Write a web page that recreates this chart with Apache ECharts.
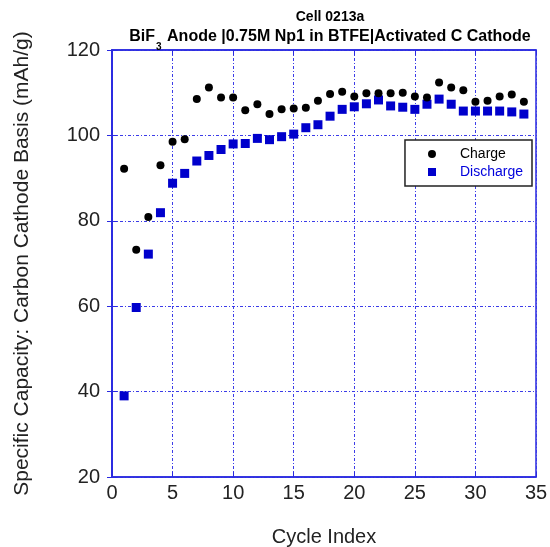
<!DOCTYPE html>
<html><head><meta charset="utf-8">
<script src="https://cdn.jsdelivr.net/npm/echarts@6/dist/echarts.min.js"></script>
<style>html,body{margin:0;padding:0;background:#fff}#c{width:550px;height:547px}</style>
</head><body><div id="c"></div>
<script>
const cycles = [1,2,3,4,5,6,7,8,9,10,11,12,13,14,15,16,17,18,19,20,21,22,23,24,25,26,27,28,29,30,31,32,33,34];
const charge = [92.2,73.2,80.9,93.0,98.5,99.1,108.5,111.2,108.9,108.9,105.9,107.3,105.0,106.1,106.3,106.5,108.1,109.7,110.2,109.1,109.9,109.9,109.9,110.0,109.1,108.9,112.4,111.2,110.6,107.9,108.1,109.1,109.6,107.9];
const discharge = [39.0,59.7,72.2,81.9,88.8,91.1,94.0,95.3,96.7,98.0,98.1,99.3,99.0,99.7,100.3,101.8,102.5,104.5,106.1,106.7,107.4,108.3,106.9,106.6,106.1,107.3,108.5,107.3,105.7,105.7,105.7,105.7,105.5,105.0];
const xTicks = [0,5,10,15,20,25,30,35];
const yTicks = [20,40,60,80,100,120];

const FONT = 'Liberation Sans, Arial, sans-serif';
const AX = '#2a2ae0';
const grid = {lineStyle:{color:'#3c3ce8', type:[3,2,1,2], width:1}};
const chart = echarts.init(document.getElementById('c'));
const pair = (a) => cycles.map((c,i)=>[c,a[i]]);
chart.setOption({
  animation:false,
  textStyle:{fontFamily:FONT},
  title:[
    {text:'Cell 0213a', left:325, top:5, textAlign:'center',
     textStyle:{fontSize:14, fontWeight:'bold', color:'#000', fontFamily:FONT}},
    {text:'{b|BiF}{s|3}{b| Anode |0.75M Np1 in BTFE|Activated C Cathode}', left:325, top:24, textAlign:'center',
     textStyle:{fontFamily:FONT, rich:{
       b:{fontSize:16, fontWeight:'bold', color:'#000', lineHeight:18, verticalAlign:'top', fontFamily:FONT},
       s:{fontSize:10, fontWeight:'bold', color:'#000', padding:[13,1,0,1], verticalAlign:'top', fontFamily:FONT}
     }}}
  ],
  grid:{left:112, right:14, top:50, bottom:70, show:true, borderColor:AX, borderWidth:1.5, backgroundColor:'#fff', outerBoundsMode:'none', containLabel:false},
  legend:{
    right:18, top:140, orient:'vertical', itemGap:4, itemWidth:8, itemHeight:8,
    backgroundColor:'#fff', borderColor:'#222', borderWidth:1.5, borderRadius:0,
    padding:[7,9,7,23],
    textStyle:{fontSize:14, fontFamily:FONT, padding:[0,0,0,19]},
    data:[{name:'Charge', icon:'circle', itemStyle:{color:'#000'}, textStyle:{color:'#000'}},
          {name:'Discharge', icon:'rect', textStyle:{color:'#0000dd'}}]
  },
  xAxis:[{
    type:'value', min:0, max:35, interval:5,
    name:'Cycle Index', nameLocation:'middle', nameGap:50,
    nameTextStyle:{fontSize:20, color:'#222', fontFamily:FONT},
    axisLine:{show:true, lineStyle:{color:AX, width:1.5}},
    axisTick:{show:true, inside:true, length:5, lineStyle:{color:AX}},
    axisLabel:{fontSize:20, color:'#222', margin:6, fontFamily:FONT},
    splitLine:{show:true, ...grid}
  },{
    type:'value', min:0, max:35, interval:5, position:'top',
    axisLine:{show:true, lineStyle:{color:AX, width:1.5}},
    axisTick:{show:true, inside:true, length:5, lineStyle:{color:AX}},
    axisLabel:{show:false}, splitLine:{show:false}
  }],
  yAxis:[{
    type:'value', min:20, max:120, interval:20,
    name:'Specific Capacity: Carbon Cathode Basis (mAh/g)', nameLocation:'middle', nameGap:79,
    nameTextStyle:{fontSize:21, color:'#222', fontFamily:FONT},
    axisLine:{show:true, lineStyle:{color:AX, width:1.5}},
    axisTick:{show:true, inside:true, length:5, lineStyle:{color:AX}},
    axisLabel:{fontSize:20, color:'#222', margin:12, fontFamily:FONT},
    splitLine:{show:true, ...grid}
  },{
    type:'value', min:20, max:120, interval:20, position:'right',
    axisLine:{show:true, lineStyle:{color:AX, width:1.5}},
    axisTick:{show:true, inside:true, length:5, lineStyle:{color:AX}},
    axisLabel:{show:false}, splitLine:{show:false}
  }],
  series:[
    {name:'Charge', type:'scatter', symbol:'circle', symbolSize:8, data:pair(charge),
     itemStyle:{color:'#000', opacity:1}, z:3},
    {name:'Discharge', type:'scatter', symbol:'rect', symbolSize:9, data:pair(discharge),
     itemStyle:{color:'#0000cc', opacity:1}, z:2}
  ]
});
</script></body></html>
